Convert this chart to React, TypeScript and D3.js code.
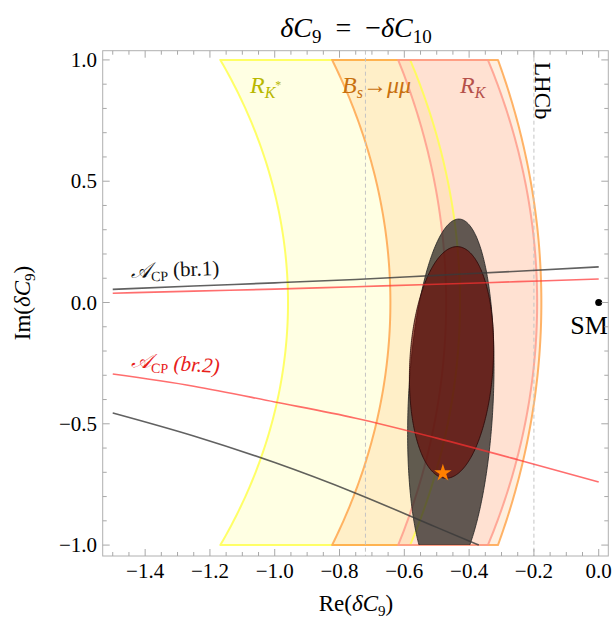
import React from "react";
import * as d3 from "d3";

const W = 615;
const H = 621;

// axis domains and ticks
const X_DOMAIN = [-1.531, 0.0296];
const Y_DOMAIN = [-1.045, 1.038];
const xMajorTicks = [-1.4, -1.2, -1.0, -0.8, -0.6, -0.4, -0.2, 0.0];
const xTickLabels = ["−1.4", "−1.2", "−1.0", "−0.8", "−0.6", "−0.4", "−0.2", "0.0"];
const yMajorTicks = [-1, -0.5, 0, 0.5, 1];
const yTickLabels = ["−1.0", "−0.5", "0.0", "0.5", "1.0"];

// constraint bands (x of each edge at Im = ±1 and at Im = 0)
const bandNames = ["RKstar", "Bsmumu", "RK"];
const bandLeftAtEnds = [-1.168, -0.823, -0.619];
const bandLeftAtZero = [-0.959, -0.643, -0.471];
const bandRightAtEnds = [-0.582, -0.311, -0.342];
const bandRightAtZero = [-0.428, -0.177, -0.19];
const bandFill = ["#FFFF99", "#FFB060", "#FFA8A0"];
const bandFillOpacity = [0.28, 0.2, 0.2];
const bandStroke = ["#FFFF4D", "#FFA64D", "#FF9C8C"];

// fit regions (ellipses)
const ellipseCx = [-0.4565, -0.4543];
const ellipseCy = [-0.402, -0.247];
const ellipseA = [0.131, 0.1289];
const ellipseShear = [0.0247, 0.017];
const ellipseB = [0.746, 0.4775];

// A_CP curves
const acpX = [-1.5, -1.25, -1.0, -0.75, -0.5, -0.25, 0];
const acpBr1Black = [0.054, 0.068, 0.081, 0.095, 0.112, 0.129, 0.147];
const acpBr1Red = [0.038, 0.047, 0.055, 0.065, 0.075, 0.086, 0.097];
const acpBr2Red = [-0.295, -0.345, -0.41, -0.477, -0.559, -0.648, -0.74];
const acpBr2BlackX = [-1.5, -1.25, -1.0, -0.75, -0.5, -0.37];
const acpBr2Black = [-0.455, -0.55, -0.66, -0.786, -0.927, -1.0];

// points
const bestFit = [-0.481, -0.703];
const smPoint = [0, 0];
const vLines = [-0.72, -0.2];

const FONT = "'Liberation Serif', 'DejaVu Serif', serif";

function arcX(x0: number, x1: number, y: number) {
  const d = x0 - x1;
  const r = (1 + d * d) / (2 * d);
  return x0 - (r - Math.sqrt(r * r - y * y));
}

export default function App() {
  const left = 102.7, right = 608.3, top = 50.7, bottom = 556;
  const x = d3.scaleLinear().domain(X_DOMAIN).range([left, right]);
  const y = d3.scaleLinear().domain(Y_DOMAIN).range([bottom, top]);

  const xMinor = d3.range(-30, 1).map((i) => i * 0.05).filter((v) => !xMajorTicks.some((m) => Math.abs(m - v) < 1e-6));
  const yMinor = d3.range(-10, 11).map((i) => i * 0.1).filter((v) => !yMajorTicks.some((m) => Math.abs(m - v) < 1e-6));

  const ys = d3.range(-50, 51).map((i) => i / 50);
  const line = d3.line<[number, number]>().x((d) => x(d[0])).y((d) => y(d[1]));
  const curve = d3.line<[number, number]>().x((d) => x(d[0])).y((d) => y(d[1])).curve(d3.curveMonotoneX);

  const bandPaths = bandNames.map((_, i) => {
    const pts: [number, number][] = [];
    ys.forEach((yy) => pts.push([arcX(bandLeftAtZero[i], bandLeftAtEnds[i], yy), yy]));
    ys.slice().reverse().forEach((yy) => pts.push([arcX(bandRightAtZero[i], bandRightAtEnds[i], yy), yy]));
    return line(pts) + "Z";
  });

  const ts = d3.range(0, 361).map((i) => (i * Math.PI) / 180);
  const ellipsePaths = ellipseCx.map((cx, i) => {
    const pts: [number, number][] = ts.map((t) => [
      cx + ellipseA[i] * Math.cos(t) + ellipseShear[i] * Math.sin(t),
      ellipseCy[i] + ellipseB[i] * Math.sin(t),
    ]);
    return line(pts) + "Z";
  });

  const star = d3.symbol().type(d3.symbolStar).size(95)();

  const tickColor = "#a8a8a8";

  return (
    <svg width={W} height={H} style={{ position: "absolute", left: 0, top: 0, background: "#fff" }} fontFamily={FONT}>
      <defs>
        <clipPath id="plotclip">
          <rect x={left} y={y(1)} width={right - left} height={y(-1) - y(1)} />
        </clipPath>
      </defs>

      {/* bands */}
      {bandPaths.map((p, i) => (
        <path key={"b" + i} d={p} fill={bandFill[i]} fillOpacity={bandFillOpacity[i]} stroke="none" />
      ))}
      {bandPaths.map((p, i) => (
        <path key={"bs" + i} d={p} fill="none" stroke={bandStroke[i]} strokeWidth={2} strokeOpacity={0.85} strokeLinejoin="round" />
      ))}

      {/* vertical dashed lines */}
      {vLines.map((v, i) => (
        <line key={"v" + i} x1={x(v)} x2={x(v)} y1={top} y2={bottom} stroke="#c4c4c4" strokeWidth={1} strokeDasharray="4,3" />
      ))}

      {/* ellipses */}
      <g clipPath="url(#plotclip)">
        <path d={ellipsePaths[0]} fill="#2a2724" fillOpacity={0.74} stroke="#222" strokeWidth={0.8} />
        <path d={ellipsePaths[1]} fill="#6A0A05" fillOpacity={0.65} stroke="#2a0505" strokeWidth={0.8} />
      </g>

      {/* A_CP lines */}
      <path d={curve(acpX.map((v, i) => [v, acpBr1Black[i]]) as any) || ""} fill="none" stroke="#3a3a3a" strokeOpacity={0.8} strokeWidth={1.6} />
      <path d={curve(acpX.map((v, i) => [v, acpBr1Red[i]]) as any) || ""} fill="none" stroke="#FF3030" strokeOpacity={0.7} strokeWidth={1.6} />
      <path d={curve(acpX.map((v, i) => [v, acpBr2Red[i]]) as any) || ""} fill="none" stroke="#FF3030" strokeOpacity={0.7} strokeWidth={1.6} />
      <path d={curve(acpBr2BlackX.map((v, i) => [v, acpBr2Black[i]]) as any) || ""} fill="none" stroke="#3a3a3a" strokeOpacity={0.8} strokeWidth={1.6} />

      {/* best fit star and SM */}
      <path d={star || ""} transform={`translate(${x(bestFit[0])},${y(bestFit[1])})`} fill="#FF8000" />
      <circle cx={x(smPoint[0])} cy={y(smPoint[1])} r={3.5} fill="#000" />
      <text x={589} y={334} fontSize={26} textAnchor="middle" fill="#000">SM</text>

      {/* frame */}
      <rect x={left} y={top} width={right - left} height={bottom - top} fill="none" stroke="#b0b0b0" strokeWidth={1} />
      {xMajorTicks.map((v, i) => (
        <g key={"xt" + i}>
          <line x1={x(v)} x2={x(v)} y1={bottom} y2={bottom - 7} stroke={tickColor} />
          <line x1={x(v)} x2={x(v)} y1={top} y2={top + 7} stroke={tickColor} />
          <text x={x(v)} y={578} fontSize={21} textAnchor="middle">{xTickLabels[i]}</text>
        </g>
      ))}
      {xMinor.map((v, i) => (
        <g key={"xm" + i}>
          <line x1={x(v)} x2={x(v)} y1={bottom} y2={bottom - 4} stroke={tickColor} />
          <line x1={x(v)} x2={x(v)} y1={top} y2={top + 4} stroke={tickColor} />
        </g>
      ))}
      {yMajorTicks.map((v, i) => (
        <g key={"yt" + i}>
          <line x1={left} x2={left + 7} y1={y(v)} y2={y(v)} stroke={tickColor} />
          <line x1={right} x2={right - 7} y1={y(v)} y2={y(v)} stroke={tickColor} />
          <text x={97} y={y(v) + 7} fontSize={21} textAnchor="end">{yTickLabels[i]}</text>
        </g>
      ))}
      {yMinor.map((v, i) => (
        <g key={"ym" + i}>
          <line x1={left} x2={left + 4} y1={y(v)} y2={y(v)} stroke={tickColor} />
          <line x1={right} x2={right - 4} y1={y(v)} y2={y(v)} stroke={tickColor} />
        </g>
      ))}

      {/* band labels */}
      <text x={250} y={93} fontSize={24} fontStyle="italic" fill="#B8B800">
        R<tspan fontSize={16} dy={5}>K</tspan><tspan fontSize={12} dy={-9} fontStyle="normal">*</tspan>
      </text>
      <text x={342} y={93} fontSize={24} fontStyle="italic" fill="#C8700F">
        B<tspan fontSize={16} dy={5}>s</tspan><tspan dy={-5} fontStyle="normal">→</tspan>μμ
      </text>
      <text x={460} y={93} fontSize={24} fontStyle="italic" fill="#B5504A">
        R<tspan fontSize={16} dy={5}>K</tspan>
      </text>

      {/* LHCb */}
      <text transform="translate(535,62) rotate(90)" fontSize={23} fill="#000">LHCb</text>

      {/* A_CP labels */}
      <text transform="translate(131,278) rotate(-2)" fontSize={21} fill="#111">
        <tspan fontStyle="italic">𝒜</tspan><tspan fontSize={14} dy={4}>CP</tspan><tspan dy={-4}> (br.1)</tspan>
      </text>
      <text transform="translate(131,367) rotate(4)" fontSize={21} fill="#E8201A">
        <tspan fontStyle="italic">𝒜</tspan><tspan fontSize={14} dy={4}>CP</tspan><tspan dy={-4} fontStyle="italic"> (br.2)</tspan>
      </text>

      {/* title */}
      <text x={356} y={37} fontSize={28} textAnchor="middle">
        <tspan fontStyle="italic">δC</tspan><tspan fontSize={19} dy={6}>9</tspan><tspan dy={-6}>{"\u2002=\u2002−"}</tspan><tspan fontStyle="italic">δC</tspan><tspan fontSize={19} dy={6}>10</tspan>
      </text>

      {/* axis labels */}
      <text x={356} y={611} fontSize={23} textAnchor="middle">
        Re(<tspan fontStyle="italic">δC</tspan><tspan fontSize={15} dy={5}>9</tspan><tspan dy={-5}>)</tspan>
      </text>
      <text transform="translate(30,303) rotate(-90)" fontSize={23} textAnchor="middle">
        Im(<tspan fontStyle="italic">δC</tspan><tspan fontSize={15} dy={5}>9</tspan><tspan dy={-5}>)</tspan>
      </text>
    </svg>
  );
}
